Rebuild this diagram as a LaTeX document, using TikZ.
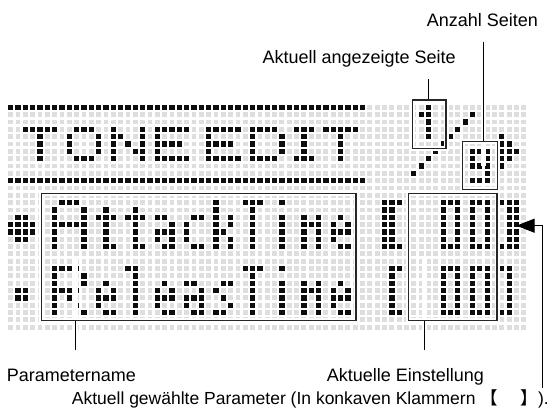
\documentclass[tikz,border=0pt]{standalone}
\usepackage{fontspec}
\setmainfont{Liberation Sans}
\newfontfamily\cjkf{Noto Sans CJK JP}
\usetikzlibrary{arrows.meta}
\newcount\lcdcol
\newcommand\lcddot[2]{\fill[dk] (#1,#2) +(-.36,-.36) rectangle +(.36,.36);}
\def\lcdparse#1{\ifx#1\relax\else\ifx#1X\lcddot{\the\lcdcol}{\lcdrow}\fi\global\advance\lcdcol by 1 \expandafter\lcdparse\fi}
\newcommand\lcdglyph[3]{\foreach \gs [count=\gi from 0] in {#3} {\global\lcdcol=#1\relax\pgfmathtruncatemacro\lcdrow{#2+\gi}\expandafter\lcdparse\gs\relax}}
\begin{document}
\begin{tikzpicture}[x=1pt,y=-1pt,
  dk/.style={fill=black!95},
  lt/.style={fill=black!13},
  boxst/.style={draw=black!85,line width=1.1pt,inner sep=0pt,preaction={draw=white,line width=5pt}},
  halo/.style={draw=white,line width=5pt},
  cn/.style={draw=black,line width=1pt},
  lbl/.style={font=\fontsize{18}{20}\selectfont,inner sep=0pt}]
\useasboundingbox (0,0) rectangle (555,408);
\fill[white] (0,0) rectangle (555,408);
\begin{scope}[shift={(10.7,107.3)},x=7.33pt,y=-7.33pt]
  \foreach \c in {0,...,70}{\foreach \r in {0,...,30}{\fill[lt] (\c,\r) +(-.33,-.33) rectangle +(.33,.33);}}
  % frame lines of the title
  \foreach \c in {0,...,48}{\lcddot{\c}{0}\lcddot{\c}{10}}
  % TONE EDIT
  \lcdglyph{2}{3}{XXXXX,ooXoo,ooXoo,ooXoo,ooXoo}
  \lcdglyph{8}{3}{oXXXo,XoooX,XoooX,XoooX,oXXXo}
  \lcdglyph{14}{3}{XoooX,XXooX,XoXoX,XooXX,XoooX}
  \lcdglyph{20}{3}{XXXXX,Xoooo,XXXXo,Xoooo,XXXXX}
  \lcdglyph{27}{3}{XXXXX,Xoooo,XXXXo,Xoooo,XXXXX}
  \lcdglyph{33}{3}{XXXXo,XoooX,XoooX,XoooX,XXXXo}
  \lcdglyph{39}{3}{XXX,oXo,oXo,oXo,XXX}
  \lcdglyph{43}{3}{XXXXX,ooXoo,ooXoo,ooXoo,ooXoo}
  % page 1/9 and arrow
  \lcdglyph{56}{0}{oX,XX,oX,oX,oX}
  \foreach \k in {0,...,8}{\lcddot{63-\k}{1+\k}}
  \lcdglyph{63}{6}{XXX,XoX,XXX,ooX,XXX}
  \lcdglyph{67}{4}{Xoo,XXo,XXX,XXo,Xoo}
  % markers
  \lcdglyph{0}{15}{oXXo,XXXX,XXXX,oXXo}
  \lcdglyph{1}{25}{XX,XX}
  % AttackTime
  \lcdglyph{6}{13}{oXXXo,XoooX,XoooX,XXXXX,XoooX,XoooX,XoooX}
  \lcdglyph{12}{13}{ooo,oXo,XXX,oXo,oXo,oXo,oXX}
  \lcdglyph{16}{13}{ooo,oXo,XXX,oXo,oXo,oXo,oXX}
  \lcdglyph{20}{15}{XXo,ooX,XXX,XoX,oXX}
  \lcdglyph{24}{15}{oXX,Xoo,Xoo,Xoo,oXX}
  \lcdglyph{28}{13}{Xoo,Xoo,XoX,XoX,XXo,XoX,XoX}
  \lcdglyph{32}{13}{XXX,oXo,oXo,oXo,oXo,oXo,oXo}
  \lcdglyph{37}{13}{X,o,X,X,X,X,X}
  \lcdglyph{40}{15}{XoX,XXX,XoX,XoX,XoX}
  \lcdglyph{44}{15}{oXo,XoX,XXX,Xoo,oXX}
  % ReleasTime
  \lcdglyph{6}{22}{XXXXo,XoooX,XoooX,XXXXo,XoXoo,XooXo,XoooX}
  \lcdglyph{12}{24}{oXo,XoX,XXX,Xoo,oXX}
  \lcdglyph{16}{22}{XX,oX,oX,oX,oX,oX,oX}
  \lcdglyph{20}{24}{oXo,XoX,XXX,Xoo,oXX}
  \lcdglyph{24}{24}{XXo,ooX,XXX,XoX,oXX}
  \lcdglyph{28}{24}{oXX,Xoo,oXo,ooX,XXo}
  \lcdglyph{32}{22}{XXX,oXo,oXo,oXo,oXo,oXo,oXo}
  \lcdglyph{37}{22}{X,o,X,X,X,X,X}
  \lcdglyph{40}{24}{XoX,XXX,XoX,XoX,XoX}
  \lcdglyph{44}{24}{oXo,XoX,XXX,Xoo,oXX}
  % values
  \lcdglyph{51}{13}{XXX,XXo,XXo,XXo,XXo,XXo,XXX}
  \lcdglyph{59}{13}{XXX,XoX,XoX,XoX,XoX,XoX,XXX}
  \lcdglyph{63}{13}{XXX,XoX,XoX,XoX,XoX,XoX,XXX}
  \lcdglyph{67}{13}{XXX,oXX,oXX,oXX,oXX,oXX,XXX}
  \lcdglyph{52}{22}{XX,Xo,Xo,Xo,Xo,Xo,XX}
  \lcdglyph{59}{22}{XXX,XoX,XoX,XoX,XoX,XoX,XXX}
  \lcdglyph{63}{22}{XXX,XoX,XoX,XoX,XoX,XoX,XXX}
  \lcdglyph{67}{22}{XX,oX,oX,oX,oX,oX,XX}
\end{scope}
% labels
\node[lbl,anchor=base west] (tA) at (426.7,26.3) {Anzahl Seiten};
\node[lbl,anchor=base east] (tS) at (456,63) {Aktuell angezeigte Seite};
\node[lbl,anchor=base west] (tP) at (6.7,381.7) {Parametername};
\node[lbl,anchor=base west] (tE) at (326.7,381.7) {Aktuelle Einstellung};
\node[lbl,font=\fontsize{17.5}{20}\selectfont,anchor=base west] (tG) at (71.7,404.5) {Aktuell gewählte Parameter (In konkaven Klammern {\cjkf 【\hspace{1.3em}】}).};
% connector ends
\coordinate (cA) at (483.3,41.7);
\coordinate (cS) at (428.3,79);
\coordinate (cP) at (75,350);
\coordinate (cE) at (424,350);
\coordinate (cG) at (542.5,388.3);
\coordinate (tip) at (516.5,225.7);
% box positions
\coordinate (pgc) at (429.35,124.35);
\coordinate (pnc) at (480.2,165.5);
\coordinate (pnamec) at (198.85,257);
\coordinate (pvalc) at (452.65,257);
% halos of connectors
\path[halo] (cA) -- (cA |- pnc) ;
\path[halo] (cP) -- (cP |- pnamec);
\path[halo] (cE) -- (cE |- pvalc);
% boxes
\node[boxst,minimum width=33.3pt,minimum height=48.7pt] (pg) at (pgc) {};
\node[boxst,minimum width=35pt,minimum height=47.6pt] (pn) at (pnc) {};
\node[boxst,minimum width=314.3pt,minimum height=127.4pt] (pname) at (pnamec) {};
\node[boxst,minimum width=88.7pt,minimum height=127.4pt] (pval) at (pvalc) {};
% connectors
\draw[cn] (cA) -- (cA |- pn.north);
\draw[cn] (cS) -- (cS |- pg.north);
\draw[cn] (cP) -- (cP |- pname.south);
\draw[cn] (cE) -- (cE |- pval.south);
\draw[cn,-{Triangle[length=18pt,width=14pt]}] (cG) |- (tip);
\end{tikzpicture}
\end{document}
